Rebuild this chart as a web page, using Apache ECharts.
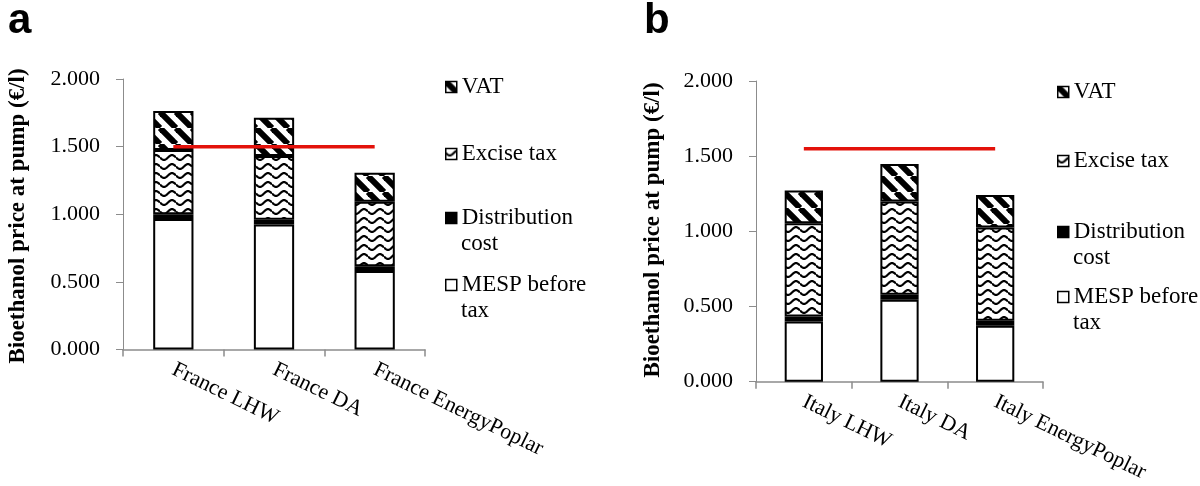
<!DOCTYPE html>
<html>
<head>
<meta charset="utf-8">
<script src="https://cdn.jsdelivr.net/npm/echarts@6/dist/echarts.min.js"></script>
<style>html,body{margin:0;padding:0;background:#fff}#c{width:1200px;height:486px}</style>
</head>
<body>
<div id="c"></div>
<script>
// ---- data ----
var categoriesA = ['France LHW', 'France DA', 'France EnergyPoplar'];
var mespA   = [0.965, 0.925, 0.580];
var distA   = [0.035, 0.035, 0.035];
var exciseA = [0.475, 0.470, 0.478];
var vatA    = [0.288, 0.284, 0.214];
var refA    = [1.50, 1.50, 1.50];

var categoriesB = ['Italy LHW', 'Italy DA', 'Italy EnergyPoplar'];
var mespB   = [0.400, 0.545, 0.372];
var distB   = [0.033, 0.033, 0.033];
var exciseB = [0.621, 0.620, 0.620];
var vatB    = [0.217, 0.250, 0.217];
var refB    = [1.55, 1.55, 1.55];

var seriesNames = ['MESP before tax', 'Distribution cost', 'Excise tax', 'VAT'];
var legendLines = {
  'VAT': ['VAT'],
  'Excise tax': ['Excise tax'],
  'Distribution cost': ['Distribution', 'cost'],
  'MESP before tax': ['MESP before', 'tax']
};
var panelLabels = ['a', 'b'];
var yName = 'Bioethanol price at pump (€/l)';

// ---- patterns ----
function stripePattern() {
  var s = 16, c = document.createElement('canvas');
  c.width = s; c.height = s;
  var g = c.getContext('2d');
  g.fillStyle = '#fff'; g.fillRect(0, 0, s, s);
  g.strokeStyle = '#000'; g.lineWidth = 6;
  for (var k = -1; k <= 1; k++) {
    g.beginPath(); g.moveTo(k * s, 0); g.lineTo(k * s + s, s); g.stroke();
  }
  return { image: c, repeat: 'repeat' };
}
function wavePattern() {
  var w = 16, h = 9, c = document.createElement('canvas');
  c.width = w; c.height = h;
  var g = c.getContext('2d');
  g.fillStyle = '#fff'; g.fillRect(0, 0, w, h);
  g.strokeStyle = '#000'; g.lineWidth = 2.2;
  g.beginPath();
  for (var x = 0; x <= w; x += 0.5) {
    var y = 4.5 + 2.4 * Math.sin(2 * Math.PI * x / w);
    if (x === 0) g.moveTo(x, y); else g.lineTo(x, y);
  }
  g.stroke();
  return { image: c, repeat: 'repeat' };
}
var stripe = stripePattern(), wave = wavePattern();

var FONT = 'Liberation Serif';
var GRAY = '#8c8c8c';
var chart = echarts.init(document.getElementById('c'));

function xAxisCfg(idx, cats) {
  return {
    type: 'category', gridIndex: idx, data: cats,
    axisLine: { lineStyle: { color: GRAY, width: 1.5 } },
    axisTick: { show: true, length: 7, lineStyle: { color: GRAY, width: 1.5 } },
    axisLabel: { rotate: -26, margin: 19, color: '#000', fontFamily: FONT, fontSize: 22, interval: 0 }
  };
}
function yAxisCfg(idx) {
  return {
    type: 'value', gridIndex: idx, min: 0, max: 2, interval: 0.5,
    axisLine: { show: true, lineStyle: { color: GRAY } },
    axisTick: { show: true, length: 7 },
    splitLine: { show: false },
    axisLabel: { color: '#000', fontFamily: FONT, fontSize: 22, margin: 11,
      align: 'right', padding: [0, 12, 0, 0],
      formatter: function (v) { return v.toFixed(3); } }
  };
}
function barSeries(idx, stack, mesp, dist, exc, vat) {
  var common = { type: 'bar', stack: stack, xAxisIndex: idx, yAxisIndex: idx, barWidth: '40%' };
  var bs = { borderColor: '#000', borderWidth: 2 };
  return [
    Object.assign({ name: seriesNames[0], data: mesp, itemStyle: Object.assign({ color: '#fff' }, bs) }, common),
    Object.assign({ name: seriesNames[1], data: dist, itemStyle: Object.assign({ color: '#000' }, bs) }, common),
    Object.assign({ name: seriesNames[2], data: exc, itemStyle: Object.assign({ color: wave }, bs) }, common),
    Object.assign({ name: seriesNames[3], data: vat, itemStyle: Object.assign({ color: stripe }, bs) }, common)
  ];
}
function lineSeries(idx, data) {
  return { type: 'line', xAxisIndex: idx, yAxisIndex: idx, data: data, symbol: 'none', z: 10,
    lineStyle: { color: '#e3120b', width: 3.5 }, silent: true };
}

var legends = [], graphics = [];
function addLegend(name, iconX, centerY) {
  var lines = legendLines[name];
  legends.push({
    data: [{ name: name, icon: 'rect' }], left: iconX, top: centerY - 13, orient: 'vertical',
    selectedMode: false, itemWidth: 11, itemHeight: 11, itemGap: 0, padding: 0,
    itemStyle: { borderColor: '#000', borderWidth: 1.5 },
    formatter: function () { return lines[0]; },
    textStyle: { fontFamily: FONT, fontSize: 23, color: '#000', lineHeight: 26 }
  });
  if (lines.length > 1) {
    graphics.push({ type: 'text', x: iconX + 16, y: centerY + 26,
      style: { text: lines[1], fontFamily: FONT, fontSize: 23, fill: '#000', verticalAlign: 'middle' } });
  }
}
addLegend('VAT', 445, 87);
addLegend('Excise tax', 445, 154);
addLegend('Distribution cost', 445, 218);
addLegend('MESP before tax', 445, 285);
addLegend('VAT', 1057, 92);
addLegend('Excise tax', 1057, 161);
addLegend('Distribution cost', 1057, 232);
addLegend('MESP before tax', 1057, 297);

// y-axis titles (rotated real text)
function yTitle(cx, cy) {
  graphics.push({ type: 'text', x: cx, y: cy, rotation: Math.PI / 2,
    style: { text: yName, fontFamily: FONT, fontWeight: 'bold', fontSize: 23, fill: '#000',
      align: 'center', verticalAlign: 'middle' } });
}
yTitle(18, 216);
yTitle(653, 230);

graphics.push({ type: 'text', x: 8, y: 21,
  style: { text: panelLabels[0], font: 'bold 42px "Liberation Sans"', fill: '#000', verticalAlign: 'middle' } });
graphics.push({ type: 'text', x: 644, y: 21,
  style: { text: panelLabels[1], font: 'bold 42px "Liberation Sans"', fill: '#000', verticalAlign: 'middle' } });

var option = {
  backgroundColor: '#fff',
  animation: false,
  textStyle: { fontFamily: FONT },
  grid: [
    { left: 123, width: 302, top: 79, bottom: 136.5 },
    { left: 756, width: 287, top: 81, bottom: 104.3 }
  ],
  xAxis: [xAxisCfg(0, categoriesA), xAxisCfg(1, categoriesB)],
  yAxis: [yAxisCfg(0), yAxisCfg(1)],
  legend: legends,
  graphic: graphics,
  series: [].concat(
    barSeries(0, 'a', mespA, distA, exciseA, vatA),
    [lineSeries(0, refA)],
    barSeries(1, 'b', mespB, distB, exciseB, vatB),
    [lineSeries(1, refB)]
  )
};
chart.setOption(option);
</script>
</body>
</html>
